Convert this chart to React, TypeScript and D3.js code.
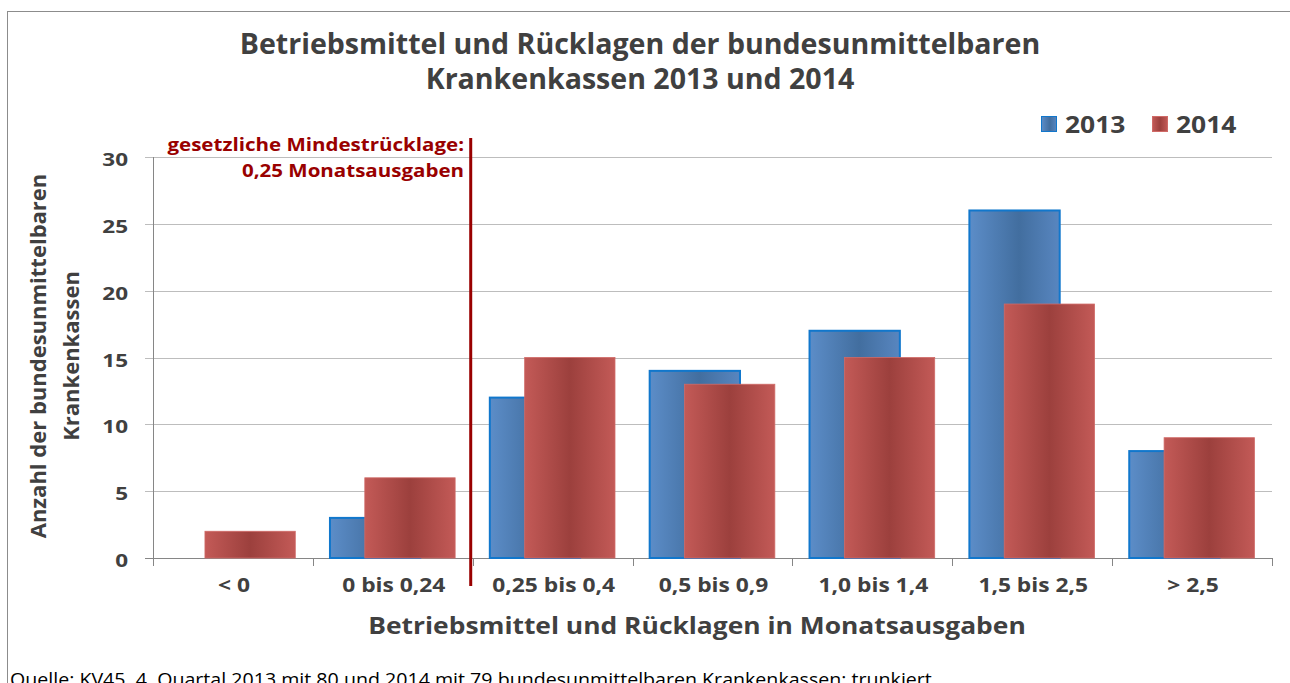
import React from "react";
import * as d3 from "d3";

const categories = ["< 0", "0 bis 0,24", "0,25 bis 0,4", "0,5 bis 0,9", "1,0 bis 1,4", "1,5 bis 2,5", "> 2,5"];
const values2013 = [0, 3, 12, 14, 17, 26, 8];
const values2014 = [2, 6, 15, 13, 15, 19, 9];
const yTicks = [0, 5, 10, 15, 20, 25, 30];
const seriesNames = ["2013", "2014"];

const W = 1290;
const H = 683;
const font = "'Open Sans', Lato, sans-serif";
const textCol = "#404040";

// text that can be stretched horizontally like the original's rendering
function T(props: {
  x: number; y: number; sx?: number; size: number; bold?: boolean;
  anchor?: "start" | "middle" | "end"; fill?: string; rotate?: number; children: React.ReactNode;
}) {
  const { x, y, sx = 1, size, bold = true, anchor = "start", fill = textCol, rotate = 0 } = props;
  return (
    <text
      transform={`translate(${x},${y}) rotate(${rotate}) scale(${sx},1)`}
      textAnchor={anchor}
      fontFamily={font}
      fontWeight={bold ? "bold" : "normal"}
      fontSize={size}
      fill={fill}
    >
      {props.children}
    </text>
  );
}

export default function App() {
  const x = d3.scaleBand<string>().domain(categories).range([153, 1272]);
  const y = d3.scaleLinear().domain([0, 30]).range([558, 157]);
  const bw = x.bandwidth();
  const barW = bw * 0.565;
  const off2013 = bw * 0.107;
  const off2014 = bw * 0.325;
  const markerX = x(categories[2])! - 2;

  return (
    <svg width={W} height={H} style={{ position: "absolute", left: 0, top: 0 }}>
      <defs>
        <linearGradient id="gBlue" x1="0" x2="1" y1="0" y2="0">
          <stop offset="0" stopColor="#5C8DC8" />
          <stop offset="0.55" stopColor="#426E9F" />
          <stop offset="1" stopColor="#5886C0" />
        </linearGradient>
        <linearGradient id="gRed" x1="0" x2="1" y1="0" y2="0">
          <stop offset="0" stopColor="#C35A57" />
          <stop offset="0.5" stopColor="#9C403D" />
          <stop offset="1" stopColor="#C35A57" />
        </linearGradient>
      </defs>
      <rect x={0} y={0} width={W} height={H} fill="#fff" />
      <line x1={7.5} x2={W} y1={11.5} y2={11.5} stroke="#8c8c8c" />
      <line x1={7.5} x2={7.5} y1={11} y2={H} stroke="#8c8c8c" />

      <T x={640} y={54} size={28} sx={1.02} anchor="middle">Betriebsmittel und Rücklagen der bundesunmittelbaren</T>
      <T x={640} y={89} size={28} sx={1.02} anchor="middle">Krankenkassen 2013 und 2014</T>

      {/* grid */}
      {yTicks.map((t) => (
        <g key={t}>
          <line x1={145} x2={1272} y1={Math.round(y(t)) + 0.5} y2={Math.round(y(t)) + 0.5}
            stroke={t === 0 ? "#868686" : "#bdbdbd"} />
          <T x={128} y={y(t) + 9} size={18} sx={1.25} anchor="end">{t}</T>
        </g>
      ))}
      <line x1={153.5} x2={153.5} y1={157} y2={558} stroke="#868686" />
      {d3.range(categories.length + 1).map((i) => {
        const xx = Math.round(153 + i * bw) + 0.5;
        return <line key={i} x1={xx} x2={xx} y1={558} y2={566} stroke="#868686" />;
      })}

      {/* bars */}
      {categories.map((c, i) => (
        <g key={c}>
          {values2013[i] > 0 && (
            <rect x={x(c)! + off2013} y={y(values2013[i])} width={barW} height={y(0) - y(values2013[i])}
              fill="url(#gBlue)" stroke="#1177CC" strokeWidth={2} />
          )}
          <rect x={x(c)! + off2014} y={y(values2014[i])} width={barW} height={y(0) - y(values2014[i])}
            fill="url(#gRed)" stroke="#D06A67" strokeWidth={0.8} />
          <T x={x(c)! + bw / 2 + 1} y={592} size={19} sx={1.2} anchor="middle">{c}</T>
        </g>
      ))}

      {/* threshold marker */}
      <line x1={markerX} x2={markerX} y1={138} y2={586} stroke="#990000" strokeWidth={3} />
      <T x={464} y={151} size={18} sx={1.14} anchor="end" fill="#990000">gesetzliche Mindestrücklage:</T>
      <T x={464} y={177} size={18} sx={1.14} anchor="end" fill="#990000">0,25 Monatsausgaben</T>

      {/* legend */}
      {seriesNames.map((s, i) => (
        <g key={s} transform={`translate(${1041 + i * 111},116)`}>
          <rect x={0.5} y={0.5} width={15} height={15} fill={i === 0 ? "url(#gBlue)" : "url(#gRed)"}
            stroke={i === 0 ? "#1177CC" : "#D06A67"} />
          <T x={24} y={17} size={23} sx={1.15}>{s}</T>
        </g>
      ))}

      {/* axis titles */}
      <T x={46} y={356} size={22} rotate={-90} anchor="middle">Anzahl der bundesunmittelbaren</T>
      <T x={79} y={356} size={22} rotate={-90} anchor="middle">Krankenkassen</T>
      <T x={697} y={634} size={24} sx={1.1} anchor="middle">Betriebsmittel und Rücklagen in Monatsausgaben</T>

      <T x={10} y={686} size={18} sx={1.09} bold={false} fill="#000">
        Quelle: KV45, 4. Quartal 2013 mit 80 und 2014 mit 79 bundesunmittelbaren Krankenkassen; trunkiert
      </T>
    </svg>
  );
}
